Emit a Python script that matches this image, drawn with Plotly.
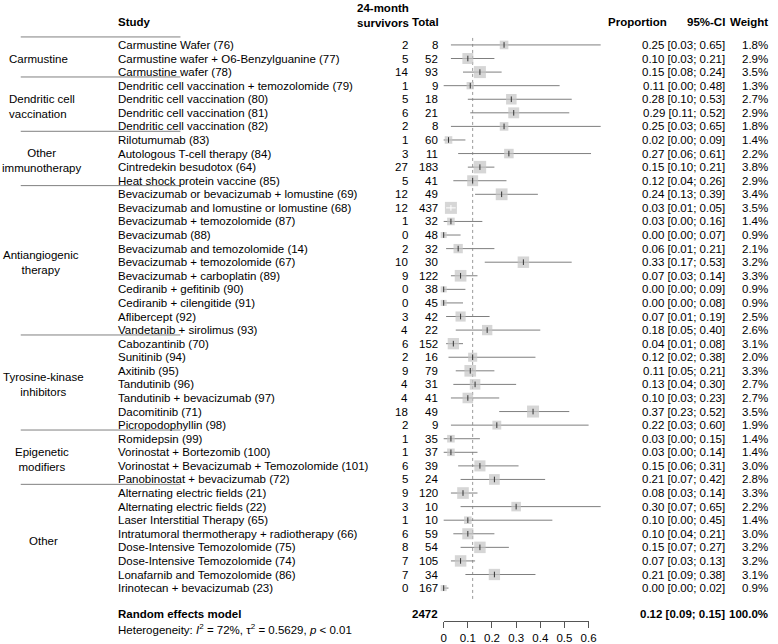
import plotly.graph_objects as go
import numpy as np

studies = [
    "Carmustine Wafer (76)", "Carmustine wafer + O6-Benzylguanine (77)", "Carmustine wafer (78)",
    "Dendritic cell vaccination + temozolomide (79)", "Dendritic cell vaccination (80)",
    "Dendritic cell vaccination (81)", "Dendritic cell vaccination (82)",
    "Rilotumumab (83)", "Autologous T-cell therapy (84)", "Cintredekin besudotox (64)",
    "Heat shock protein vaccine (85)",
    "Bevacizumab or bevacizumab + lomustine (69)", "Bevacizumab and lomustine or lomustine (68)",
    "Bevacizumab + temozolomide (87)", "Bevacizumab (88)", "Bevacizumab and temozolomide (14)",
    "Bevacizumab + temozolomide (67)", "Bevacizumab + carboplatin (89)", "Cediranib + gefitinib (90)",
    "Cediranib + cilengitide (91)", "Aflibercept (92)", "Vandetanib + sirolimus (93)",
    "Cabozantinib (70)", "Sunitinib (94)", "Axitinib (95)", "Tandutinib (96)",
    "Tandutinib + bevacizumab (97)", "Dacomitinib (71)", "Picropodophyllin (98)",
    "Romidepsin (99)", "Vorinostat + Bortezomib (100)",
    "Vorinostat + Bevacizumab + Temozolomide (101)", "Panobinostat + bevacizumab (72)",
    "Alternating electric fields (21)", "Alternating electric fields (22)",
    "Laser Interstitial Therapy (65)", "Intratumoral thermotherapy + radiotherapy (66)",
    "Dose-Intensive Temozolomide (75)", "Dose-Intensive Temozolomide (74)",
    "Lonafarnib and Temozolomide (86)", "Irinotecan + bevacizumab (23)",
]
survivors = [2, 5, 14, 1, 5, 6, 2, 1, 3, 27, 5, 12, 12, 1, 0, 2, 10, 9, 0, 0, 3, 4,
             6, 2, 9, 4, 4, 18, 2, 1, 1, 6, 5, 9, 3, 1, 6, 8, 7, 7, 0]
totals = [8, 52, 93, 9, 18, 21, 8, 60, 11, 183, 41, 49, 437, 32, 48, 32, 30, 122, 38, 45, 42, 22,
          152, 16, 79, 31, 41, 49, 9, 35, 37, 39, 24, 120, 10, 10, 59, 54, 105, 34, 167]
proportions = [0.25, 0.10, 0.15, 0.11, 0.28, 0.29, 0.25, 0.02, 0.27, 0.15, 0.12, 0.24, 0.03, 0.03,
               0.00, 0.06, 0.33, 0.07, 0.00, 0.00, 0.07, 0.18, 0.04, 0.12, 0.11, 0.13, 0.10, 0.37,
               0.22, 0.03, 0.03, 0.15, 0.21, 0.08, 0.30, 0.10, 0.10, 0.15, 0.07, 0.21, 0.00]
ci_low = [0.03, 0.03, 0.08, 0.00, 0.10, 0.11, 0.03, 0.00, 0.06, 0.10, 0.04, 0.13, 0.01, 0.00,
          0.00, 0.01, 0.17, 0.03, 0.00, 0.00, 0.01, 0.05, 0.01, 0.02, 0.05, 0.04, 0.03, 0.23,
          0.03, 0.00, 0.00, 0.06, 0.07, 0.03, 0.07, 0.00, 0.04, 0.07, 0.03, 0.09, 0.00]
ci_high = [0.65, 0.21, 0.24, 0.48, 0.53, 0.52, 0.65, 0.09, 0.61, 0.21, 0.26, 0.39, 0.05, 0.16,
           0.07, 0.21, 0.53, 0.14, 0.09, 0.08, 0.19, 0.40, 0.08, 0.38, 0.21, 0.30, 0.23, 0.52,
           0.60, 0.15, 0.14, 0.31, 0.42, 0.14, 0.65, 0.45, 0.21, 0.27, 0.13, 0.38, 0.02]
weights = [1.8, 2.9, 3.5, 1.3, 2.7, 2.9, 1.8, 1.4, 2.2, 3.8, 2.9, 3.4, 3.5, 1.4, 0.9, 2.1, 3.2,
           3.3, 0.9, 0.9, 2.5, 2.6, 3.1, 2.0, 3.3, 2.7, 2.7, 3.5, 1.9, 1.4, 1.4, 3.0, 2.8, 3.3,
           2.2, 1.4, 3.0, 3.2, 3.2, 3.1, 0.9]

group_names = ["Carmustine", "Dendritic cell<br>vaccination", "Other<br>immunotherapy",
               "Antiangiogenic<br>therapy", "Tyrosine-kinase<br>inhibitors",
               "Epigenetic<br>modifiers", "Other"]
group_sizes = [3, 4, 4, 11, 7, 4, 8]

pooled_total = 2472
pooled_est = 0.12
pooled_low = 0.09
pooled_high = 0.15
pooled_weight = "100.0%"

tick_values = [0, 0.1, 0.2, 0.3, 0.4, 0.5, 0.6]
tick_labels = ["0", "0.1", "0.2", "0.3", "0.4", "0.5", "0.6"]

# ---------------- layout geometry (screen pixels) ----------------
W, H = 778, 644
X0_PX, PX_PER_UNIT = 447, 245.0
Y0_PX, ROW_PX = 45, 13.6
FONT = "Liberation Sans, Arial, Helvetica, sans-serif"
FS = 11.5

# group label placement style: (anchor, x pixel)
group_label_pos = [("left", 5), ("left", 5), ("center", 40), ("center", 39),
                   ("center", 41), ("center", 40), ("center", 41)]


def row_of(py):
    return (py - Y0_PX) / ROW_PX


def pxx(px):
    return px / W


n = len(studies)
rows = list(range(n))
pooled_row = row_of(615)

sides = [12.5 * np.sqrt(w / max(weights)) for w in weights]
inside = [((p - lo) * PX_PER_UNIT < s / 2) and ((hi - p) * PX_PER_UNIT < s / 2)
          for p, lo, hi, s in zip(proportions, ci_low, ci_high, sides)]

fig = go.Figure()

# reference dotted line at pooled estimate
fig.add_trace(go.Scatter(x=[pooled_est, pooled_est], y=[row_of(38), row_of(608)], mode="lines",
                         line=dict(color="#999999", width=1, dash="dot"), hoverinfo="skip"))

# CI lines (outside squares)
lx, ly = [], []
for i in rows:
    if not inside[i]:
        lx += [ci_low[i], ci_high[i], None]
        ly += [i, i, None]
fig.add_trace(go.Scatter(x=lx, y=ly, mode="lines", line=dict(color="#7f7f7f", width=1),
                         hoverinfo="skip"))

# squares
fig.add_trace(go.Scatter(x=proportions, y=rows, mode="markers",
                         marker=dict(symbol="square", size=sides, color="#c4c4c4",
                                     line=dict(width=0)), hoverinfo="skip"))

# CI lines inside squares (white)
wx, wy = [], []
for i in rows:
    if inside[i]:
        wx += [ci_low[i], ci_high[i], None]
        wy += [i, i, None]
fig.add_trace(go.Scatter(x=wx, y=wy, mode="lines", line=dict(color="white", width=1),
                         hoverinfo="skip"))

# centre ticks
fig.add_trace(go.Scatter(x=proportions, y=rows, mode="markers",
                         marker=dict(symbol="line-ns", size=4, color="#333333",
                                     line=dict(width=1, color=["white" if f else "#333333" for f in inside])),
                         hoverinfo="skip"))

# diamond
dh = 4.0 / ROW_PX
fig.add_trace(go.Scatter(x=[pooled_low, pooled_est, pooled_high, pooled_est, pooled_low],
                         y=[pooled_row, pooled_row - dh, pooled_row, pooled_row + dh, pooled_row],
                         mode="lines", fill="toself", fillcolor="#b0b0b0",
                         line=dict(color="#666666", width=1), hoverinfo="skip"))

# invisible trace on axis 2
fig.add_trace(go.Scatter(x=[0, 0.6], y=[0, 1], xaxis="x2", yaxis="y2", mode="markers",
                         marker=dict(opacity=0), hoverinfo="skip"))

ann = []


def add_text(text, px, y, anchor="left", bold=False, align="left"):
    if bold:
        text = "<b>" + text + "</b>"
    ann.append(dict(text=text, x=pxx(px), xref="paper", y=y, yref="y", xanchor=anchor,
                    yanchor="middle", showarrow=False, align=align,
                    font=dict(family=FONT, size=FS, color="black"), borderpad=0))


# headers
add_text("Study", 116, row_of(22), bold=True)
add_text("24-month<br>survivors", 385, row_of(16), anchor="center", bold=True, align="center")
add_text("Total", 443, row_of(22), anchor="right", bold=True)
add_text("Proportion", 613, row_of(22), bold=True)
add_text("95%-CI", 733, row_of(22), anchor="right", bold=True)
add_text("Weight", 777, row_of(22), anchor="right", bold=True)

for i in rows:
    add_text(studies[i], 116, i)
    add_text(str(survivors[i]), 412, i, anchor="right")
    add_text(str(totals[i]), 442, i, anchor="right")
    add_text(f"{proportions[i]:.2f} [{ci_low[i]:.2f}; {ci_high[i]:.2f}]", 733, i, anchor="right")
    add_text(f"{weights[i]:.1f}%", 777, i, anchor="right")

# group labels and separators
shapes = []
sep_kw = dict(type="line", xref="paper", yref="y", x0=pxx(18), x1=pxx(180),
              line=dict(color="#808080", width=1))
shapes.append(dict(sep_kw, y0=row_of(37), y1=row_of(37)))
start = 0
for gi, (g, s) in enumerate(zip(group_names, group_sizes)):
    end = start + s - 1
    anc, gx = group_label_pos[gi]
    add_text(g, gx, (start + end) / 2, anchor=anc, align=anc)
    if gi < len(group_names) - 1:
        yy = end + 0.36
        shapes.append(dict(sep_kw, y0=yy, y1=yy))
    start = end + 1

# pooled row
add_text("Random effects model", 116, pooled_row, bold=True)
add_text(str(pooled_total), 442, pooled_row, anchor="right", bold=True)
add_text(f"{pooled_est:.2f} [{pooled_low:.2f}; {pooled_high:.2f}]", 733, pooled_row, anchor="right", bold=True)
add_text(pooled_weight, 777, pooled_row, anchor="right", bold=True)
add_text("Heterogeneity: <i>I</i><sup>2</sup> = 72%, τ<sup>2</sup> = 0.5629, <i>p</i> < 0.01",
         116, row_of(630))

fig.update_layout(
    width=W, height=H, margin=dict(l=0, r=0, t=0, b=0),
    paper_bgcolor="white", plot_bgcolor="white", showlegend=False, hovermode=False,
    xaxis=dict(domain=[0, 1], range=[-X0_PX / PX_PER_UNIT, (W - X0_PX) / PX_PER_UNIT],
               visible=False, fixedrange=True),
    yaxis=dict(domain=[0, 1], range=[row_of(H), row_of(0)], visible=False, fixedrange=True),
    xaxis2=dict(domain=[X0_PX / W, (X0_PX + 0.6 * PX_PER_UNIT) / W], range=[0, 0.6],
                anchor="y2", showline=True, linecolor="#555555", linewidth=1, ticks="outside",
                ticklen=6, tickcolor="#555555", tickwidth=1, tickvals=tick_values, ticktext=tick_labels,
                showgrid=False, zeroline=False, tickfont=dict(family=FONT, size=FS, color="black"),
                fixedrange=True),
    yaxis2=dict(domain=[(H - 622) / H, (H - 600) / H], range=[0, 1], visible=False,
                fixedrange=True),
    annotations=ann, shapes=shapes,
)

fig.write_html("out.html", config={"displayModeBar": False, "staticPlot": True},
               post_script="document.body.style.margin='0px';document.body.style.overflow='hidden';")
